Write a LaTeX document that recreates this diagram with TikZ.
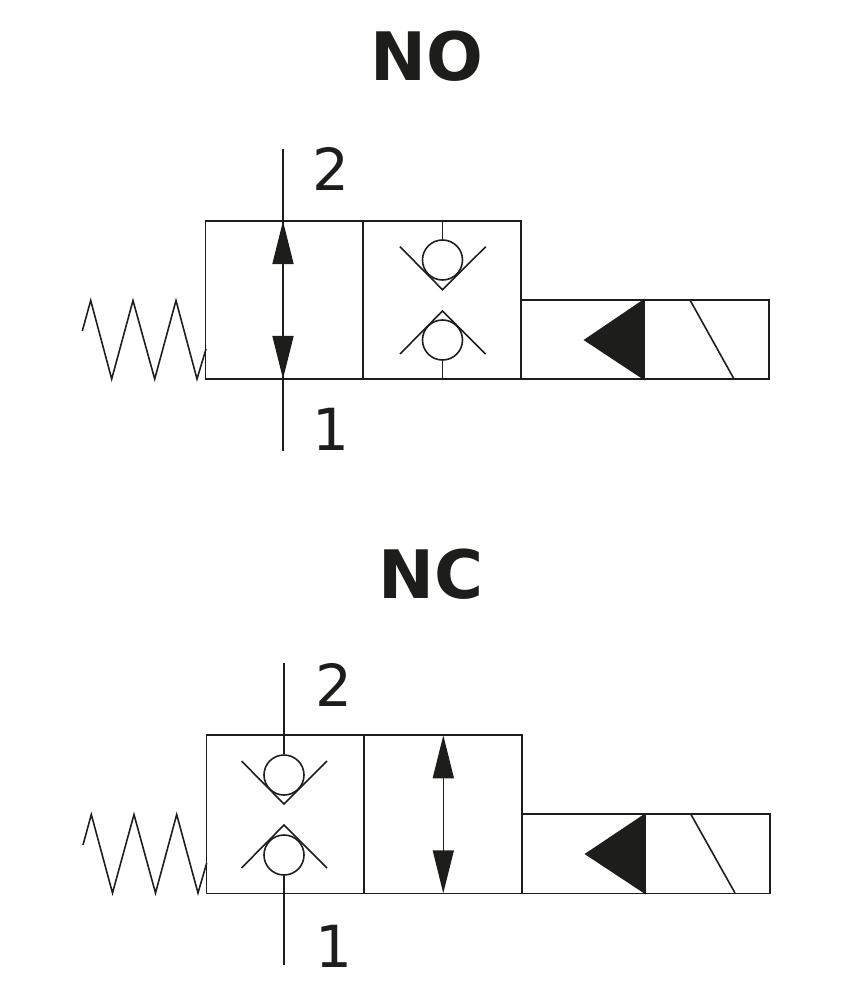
\documentclass[tikz,border=0pt]{standalone}
\usepackage{fontspec}
\setmainfont{DejaVu Sans}
\usetikzlibrary{arrows.meta}
\definecolor{ink}{HTML}{1D1D1B}
\tikzset{
	line/.style={draw=ink, line width=0.45pt},
	cell/.style={line, rectangle, inner sep=0pt, minimum width=1.575cm, minimum height=1.58cm},
	solbox/.style={line, rectangle, inner sep=0pt, minimum height=0.79cm},
	ball/.style={line, circle, inner sep=0pt, minimum size=0.4cm},
	heading/.style={text=ink, font=\bfseries\fontsize{19}{20}\selectfont, inner sep=0pt},
	port/.style={text=ink, font=\fontsize{16.5}{20}\selectfont, inner sep=0pt},
	flow/.style={line, {Triangle[length=0.43cm,width=0.21cm,fill=ink]}-{Triangle[length=0.43cm,width=0.21cm,fill=ink]}},
	coilmark/.style={line, fill=ink, line join=miter}
}
\begin{document}
\begin{tikzpicture}[x=0.01cm, y=-0.01cm]
	\useasboundingbox (0,0) rectangle (850,1000);
	% upper valve
	\node[heading] (titleNO) at (427,56) {NO};
	\node[cell] (a1) at (284.5,300) {};
	\node[cell] (a2) at (442,300) {};
	\node[solbox, minimum width=1.24cm] (a3) at (582.5,339.5) {};
	\node[solbox, minimum width=1.25cm] (a4) at (706.5,339.5) {};
	\node[port] (a2lab) at (331,169) {2};
	\node[port] (a1lab) at (331,429) {1};
	\coordinate (atop) at (283,149);
	\coordinate (abot) at (283,451);
	\coordinate (ahi) at (283,221);
	\coordinate (alo) at (283,379);
	\draw[line] (atop) -- (abot);
	\draw[flow] (ahi) -- (alo);
	\node[ball] (ab1) at (442.5,260) {};
	\node[ball] (ab2) at (442.5,340) {};
	\draw[line] (442.5,221) -- (ab1);
	\draw[line] (442.5,379) -- (ab2);
	\draw[line] (400,246.7) -- (442.5,289.7) -- (485.7,246.7);
	\draw[line] (400,354) -- (442.5,311) -- (485.5,354);
	\draw[coilmark] (585,340) -- (644,300) -- (644,379) -- cycle;
	\draw[line] (690,300) -- (734,379);
	\draw[line] (82.3,331) -- (90.7,300.5) -- (111.7,379) -- (133,300.5) -- (154.7,379) -- (176,300.5) -- (197,379) -- (206,349);
	% lower valve
	\node[heading] (titleNC) at (431,574) {NC};
	\node[cell] (c1) at (285.5,814.3) {};
	\node[cell] (c2) at (443,814.3) {};
	\node[solbox, minimum width=1.24cm] (c3) at (583.5,853.8) {};
	\node[solbox, minimum width=1.25cm] (c4) at (707.5,853.8) {};
	\node[port] (c2lab) at (334,685) {2};
	\node[port] (c1lab) at (334,946) {1};
	\coordinate (ctop) at (284,663);
	\coordinate (cbot) at (284,965);
	\coordinate (chi) at (443.3,735.3);
	\coordinate (clo) at (443.3,893.3);
	\node[ball] (cb1) at (284,775) {};
	\node[ball] (cb2) at (284,855) {};
	\draw[line] (ctop) -- (cb1);
	\draw[line] (cbot) -- (cb2);
	\draw[flow] (chi) -- (clo);
	\draw[line] (241.5,761) -- (284,804) -- (327,761);
	\draw[line] (241.5,868) -- (284,825) -- (327,868);
	\draw[coilmark] (586,854) -- (645,814.5) -- (645,893) -- cycle;
	\draw[line] (691,814.5) -- (735,893);
	\draw[line] (83,845) -- (91.3,814.5) -- (112.5,893) -- (134,814.5) -- (155.5,893) -- (176.7,814.5) -- (198,893) -- (206.7,863);
\end{tikzpicture}
\end{document}
